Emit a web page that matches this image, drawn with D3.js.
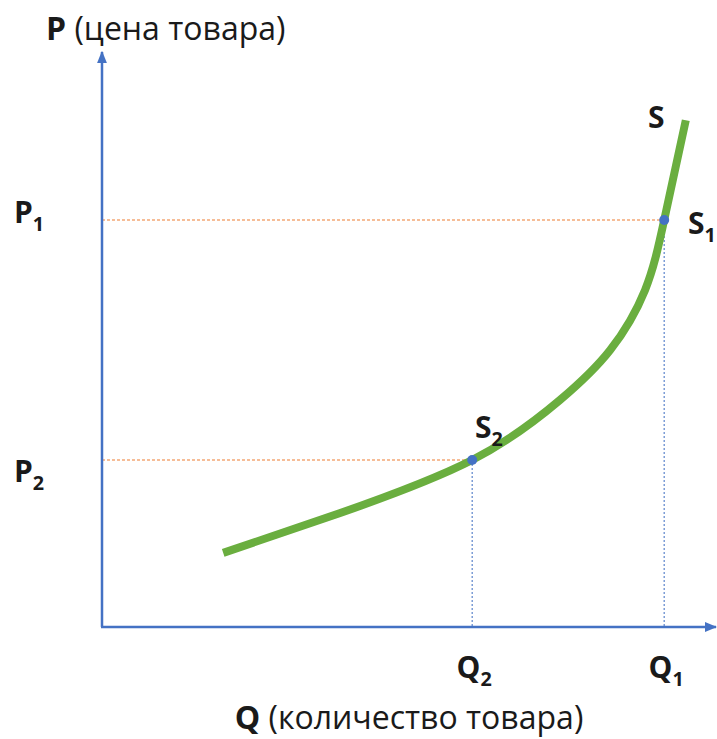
<!DOCTYPE html>
<html><head><meta charset="utf-8">
<script src="https://cdn.jsdelivr.net/npm/d3@7"></script>
<style>body{margin:0;background:#fff}svg{display:block}text{font-family:"Open Sans","Noto Sans",sans-serif;fill:#1a1a1a}</style>
</head><body><svg id="c" width="717" height="739"></svg>
<script>
// Supply curve S (quantity, price) in chart units
const curveQ = [2.02, 3.97, 6.17, 7.63, 8.47, 9.05, 9.37, 9.73];
const curveP = [1.30, 2.00, 2.93, 3.98, 4.86, 5.91, 7.14, 8.89];
// Marked points
const pointNames = ["S1", "S2"];
const pointQ = [9.37, 6.17];
const pointP = [7.14, 2.93];
const priceLabels = ["P1", "P2"];
const qtyLabels = ["Q1", "Q2"];

const svg = d3.select("#c");
const x = d3.scaleLinear().domain([0, 10]).range([102, 702]);
const y = d3.scaleLinear().domain([0, 10]).range([627, 57]);
const blue = "#4472C4", green = "#6AAE3F", orange = "#ED7D31";

const defs = svg.append("defs");
defs.append("marker").attr("id","arr").attr("viewBox","0 0 10 10").attr("refX",9).attr("refY",5)
  .attr("markerWidth",5).attr("markerHeight",5).attr("markerUnits","strokeWidth").attr("orient","auto")
  .append("path").attr("d","M0,1 L10,5 L0,9 Z").attr("fill",blue);

// guide lines
pointNames.forEach((n,i)=>{
  svg.append("line").attr("x1",x(0)).attr("x2",x(pointQ[i])).attr("y1",y(pointP[i])).attr("y2",y(pointP[i]))
    .attr("stroke",orange).attr("stroke-width",1.2).attr("stroke-dasharray","3,2");
  svg.append("line").attr("x1",x(pointQ[i])).attr("x2",x(pointQ[i])).attr("y1",y(pointP[i])).attr("y2",y(0))
    .attr("stroke",blue).attr("stroke-width",1.3).attr("stroke-dasharray","2,2").attr("opacity",0.8);
});

// axes
svg.append("line").attr("x1",x(0)).attr("y1",y(0)).attr("x2",x(0)).attr("y2",52)
  .attr("stroke",blue).attr("stroke-width",2.5).attr("marker-end","url(#arr)");
svg.append("line").attr("x1",x(0)-1).attr("y1",y(0)).attr("x2",716).attr("y2",y(0))
  .attr("stroke",blue).attr("stroke-width",2.5).attr("marker-end","url(#arr)");

// curve
const pts = curveQ.map((q,i)=>[q, curveP[i]]);
svg.append("path").datum(pts)
  .attr("d", d3.line().x(d=>x(d[0])).y(d=>y(d[1])).curve(d3.curveNatural))
  .attr("fill","none").attr("stroke",green).attr("stroke-width",8).attr("stroke-linecap","butt");

// dots
pointNames.forEach((n,i)=>{
  svg.append("circle").attr("cx",x(pointQ[i])).attr("cy",y(pointP[i])).attr("r",5).attr("fill",blue);
});

function sub(t, xx, yy, main, s, size, anchor){
  const el = svg.append("text").attr("x",xx).attr("y",yy).attr("font-size",size).attr("font-weight","bold")
    .attr("text-anchor",anchor||"start");
  el.append("tspan").text(main);
  el.append("tspan").attr("font-size",size*0.66).attr("dy",size*0.28).text(s);
  return el;
}
// axis titles
const t1 = svg.append("text").attr("x",46).attr("y",40).attr("font-size",32);
t1.append("tspan").attr("font-weight","bold").text("P");
t1.append("tspan").text(" (цена товара)");
const t2 = svg.append("text").attr("x",409).attr("y",729).attr("font-size",32).attr("text-anchor","middle");
t2.append("tspan").attr("font-weight","bold").text("Q");
t2.append("tspan").text(" (количество товара)");

// price / quantity labels
sub(svg, 14, y(pointP[0])+3, priceLabels[0][0], priceLabels[0].slice(1), 30);
sub(svg, 14, y(pointP[1])+22, priceLabels[1][0], priceLabels[1].slice(1), 30);
sub(svg, x(pointQ[0])+2, 678, qtyLabels[0][0], qtyLabels[0].slice(1), 30, "middle");
sub(svg, x(pointQ[1])+2, 678, qtyLabels[1][0], qtyLabels[1].slice(1), 30, "middle");
// point labels
svg.append("text").attr("x",648).attr("y",128).attr("font-size",30).attr("font-weight","bold").text("S");
sub(svg, 688, y(pointP[0])+14, pointNames[0][0], pointNames[0].slice(1), 30);
sub(svg, 475, y(pointP[1])-22, pointNames[1][0], pointNames[1].slice(1), 30);
</script></body></html>
